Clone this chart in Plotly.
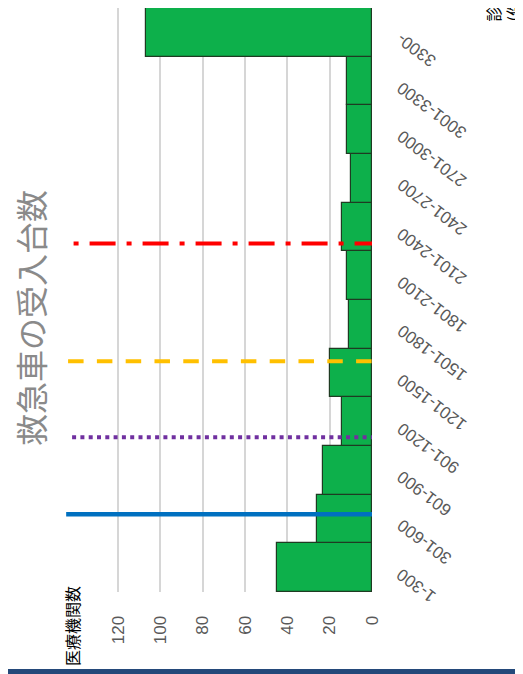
import plotly.graph_objects as go

# ---- data ----
categories = ["1-300", "301-600", "601-900", "901-1200", "1201-1500", "1501-1800",
              "1801-2100", "2101-2400", "2401-2700", "2701-3000", "3001-3300", "3300-"]
counts = [45, 26, 23, 14, 20, 11, 12, 14, 10, 12, 12, 107]
value_ticks = [0, 20, 40, 60, 80, 100, 120]

# reference lines: position on the category axis (index units), left end on value axis
ref_names = ["blue", "purple", "yellow", "red"]
ref_pos = [1.1, 2.68, 4.24, 6.66]
ref_extent = [144.5, 141.7, 143.6, 141.0]
ref_colors = ["#0070C0", "#7030A0", "#FFC000", "#FF0000"]
ref_dash = ["solid", "4px,4.3px", "15.5px,13.3px", "5px,11px,26px,11px"]
ref_width = [4.5, 3.8, 4, 4]

title_text = "救急車の受入台数"
value_title = "医療機関数"
cat_title = "診療件数<br>(件)"

OFF = 8  # page body margin
W, H = 523 - OFF, 674 - OFF
L, R, T, B = 55, 151, 0, 82
PW, PH = W - L - R, H - T - B


def px(xs):
    return (xs - OFF - L) / PW


def py(ys):
    return 1 - (ys - OFF - T) / PH


fig = go.Figure()
fig.add_trace(go.Bar(
    x=counts, y=categories, orientation="h",
    marker=dict(color="#0DB04B", line=dict(color="#1F3B22", width=1.2)),
    hoverinfo="skip",
))

shapes = []
for pos, ext, col, dsh, w in zip(ref_pos, ref_extent, ref_colors, ref_dash, ref_width):
    shapes.append(dict(type="line", xref="x", yref="y", x0=ext, x1=0, y0=pos, y1=pos,
                       line=dict(color=col, width=w, dash=dsh), layer="above"))
# bottom band
shapes.append(dict(type="rect", xref="paper", yref="paper", x0=px(0), x1=px(530),
                   y0=py(680), y1=py(669), fillcolor="#24497A", line=dict(width=0)))

annotations = []
for c in categories:
    annotations.append(dict(x=0, y=c, xref="x", yref="y", text=c, showarrow=False,
                            textangle=-143, xanchor="left", yanchor="top",
                            xshift=19, yshift=6,
                            font=dict(family="Liberation Sans, Arial", size=17, color="#595959")))
annotations.append(dict(x=px(30), y=py(318), xref="paper", yref="paper", text=title_text,
                        showarrow=False, textangle=-90, xanchor="center", yanchor="middle",
                        font=dict(family="Noto Sans CJK JP", size=32, color="#8A8A8A")))
annotations.append(dict(x=px(72), y=py(626), xref="paper", yref="paper", text=value_title,
                        showarrow=False, textangle=-90, xanchor="center", yanchor="middle",
                        font=dict(family="Noto Sans CJK JP", size=16, color="#000000")))
annotations.append(dict(x=px(478), y=py(24), xref="paper", yref="paper", text=cat_title,
                        showarrow=False, textangle=-90, xanchor="left", yanchor="bottom",
                        align="left",
                        font=dict(family="Noto Sans CJK JP", size=16, color="#000000")))

fig.update_layout(
    width=W, height=H, margin=dict(l=L, r=R, t=T, b=B, pad=0),
    paper_bgcolor="white", plot_bgcolor="white",
    showlegend=False, bargap=0,
    shapes=shapes, annotations=annotations,
    xaxis=dict(range=[146, 0], tickvals=value_ticks, tickangle=-90,
               showgrid=True, gridcolor="#D6D6D6", gridwidth=2, zeroline=False,
               ticks="outside", ticklen=16, tickcolor="rgba(0,0,0,0)",
               showline=False,
               tickfont=dict(family="Liberation Sans, Arial", size=17, color="#595959")),
    yaxis=dict(showticklabels=False, showgrid=False, zeroline=False, showline=False,
               range=[-0.5, len(categories) - 0.5]),
)

fig.write_html("out.html")
